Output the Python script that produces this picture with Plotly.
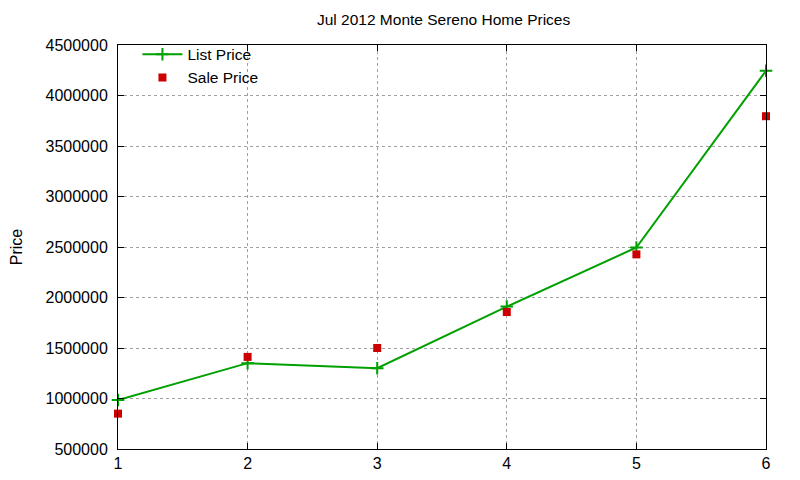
'''
Jul 2012 Monte Sereno home prices: list price vs sale price,
drawn in the style of the original gnuplot chart.
'''
import plotly.graph_objects as go

# Data.
sale_index = [1, 2, 3, 4, 5, 6]
list_price = [985000, 1350000, 1300000, 1910000, 2495000, 4245000]
sale_price = [850000, 1412000, 1500000, 1856000, 2427000, 3795000]

title = 'Jul 2012 Monte Sereno Home Prices'
y_title = 'Price'

# Colours.
green = '#00a000'
red = '#cc0000'
grid_color = '#a0a0a0'

font = dict(family='Liberation Sans, Arial, sans-serif', size=16, color='black')

fig = go.Figure()

fig.add_scatter(
    x=sale_index,
    y=list_price,
    name='List Price',
    mode='lines+markers',
    line=dict(color=green, width=2),
    marker=dict(symbol='cross-thin', size=9, line=dict(color=green, width=2)),
    cliponaxis=False,
)

fig.add_scatter(
    x=sale_index,
    y=sale_price,
    name='Sale Price',
    mode='markers',
    marker=dict(symbol='square', size=8, color=red),
    cliponaxis=False,
)

axis_style = dict(
    showline=True,
    linecolor='black',
    linewidth=1,
    mirror='ticks',
    ticks='inside',
    ticklen=6,
    tickcolor='black',
    showgrid=True,
    gridcolor=grid_color,
    griddash='dot',
    gridwidth=1,
    zeroline=False,
    tickfont=font,
    automargin=False,
)

fig.update_xaxes(range=[1, 6], dtick=1, **axis_style)
fig.update_yaxes(
    range=[500000, 4500000],
    dtick=500000,
    tickformat='d',
    ticklabelstandoff=6,
    title=dict(text=y_title, font=font, standoff=30),
    **axis_style,
)

# The page is shown with an 8px body margin, so the figure is sized to fit.
fig.update_layout(
    width=792,
    height=472,
    margin=dict(l=110, r=34, t=37, b=31),
    paper_bgcolor='white',
    plot_bgcolor='white',
    font=font,
    title=dict(text=title, x=0.55, xanchor='center', y=0.975, yanchor='middle', font=dict(size=15.5)),
    legend=dict(
        x=0.03,
        y=1.018,
        xanchor='left',
        yanchor='top',
        bgcolor='rgba(0,0,0,0)',
        font=dict(size=15.5),
        tracegroupgap=0,
        itemwidth=40,
    ),
)

fig.write_html('out.html')
